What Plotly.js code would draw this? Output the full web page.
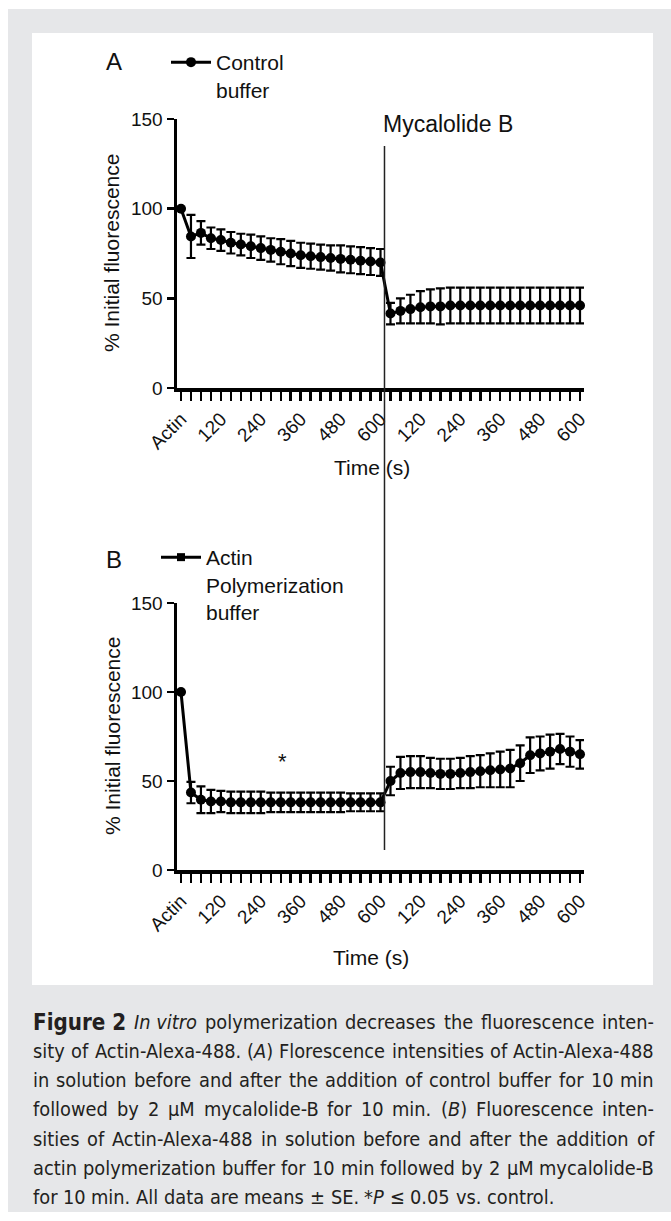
<!DOCTYPE html>
<html><head><meta charset="utf-8">
<script src="https://cdn.plot.ly/plotly-3.0.1.min.js"></script>
<style>html,body{margin:0;padding:0;background:#fff;}#chart{width:671px;height:1221px;}</style>
</head><body><div id="chart"></div>
<script>
// ---------- data ----------
const tickLabels = ["Actin","","","","120","","","","240","","","","360","","","","480","","","","600",
  "","","","120","","","","240","","","","360","","","","480","","","","600"];
const controlMean = [100, 84.5, 86.5, 83.5, 82.5, 81, 80, 79, 78, 77, 76, 75, 74, 73.5, 73, 72.5, 72, 71.5, 71, 70.5, 70,
  41.5, 43, 44, 45, 45.5, 45.5, 46, 46, 46, 46, 46, 46, 46, 46, 46, 46, 46, 46, 46, 46];
const controlSE = [0, 12, 6.5, 6, 6, 6, 6, 6.5, 6.5, 6.5, 7, 7, 7, 7, 7, 7, 7.5, 7.5, 7.5, 7.5, 7.5,
  6, 7, 8, 9, 9.5, 10, 10, 10, 10, 10, 10, 10, 10, 10, 10, 10, 10, 10, 10, 10];
const polyMean = [100, 43.5, 39.5, 38.5, 38.5, 38, 38, 38, 38, 38, 38, 38, 38, 38, 38, 38, 38, 38, 38, 38, 38,
  50, 54.5, 55, 55, 54.5, 54, 54, 54.5, 55, 55.5, 56, 56.5, 57, 60, 64.5, 65.5, 66.5, 68, 66.5, 65];
const polySE = [0, 6, 7.5, 6.5, 6, 6, 6, 6, 6, 5.5, 5.5, 5.5, 5.5, 5.5, 5.5, 5.5, 5.5, 5, 5, 5, 5,
  8, 9, 9, 9, 8.5, 8.5, 8.5, 8.5, 9, 9, 9.5, 10, 10.5, 10, 10, 9.5, 9.5, 8.5, 8.5, 8];
const mycalolideAt = 20.4;   // addition of mycalolide B (between 600 s and next point)
const starPoint = {x: 10.2, y: 61};

const captionLines = [
  "<b>Figure\u00a02</b> <i>In\u00a0vitro</i> polymerization decreases the fluorescence inten-",
  "sity of Actin-Alexa-488. (<i>A</i>) Florescence intensities of Actin-Alexa-488",
  "in solution before and after the addition of control buffer for 10 min",
  "followed by 2 \u03bcM mycalolide-B for 10 min. (<i>B</i>) Fluorescence inten-",
  "sities of Actin-Alexa-488 in solution before and after the addition of",
  "actin polymerization buffer for 10 min followed by 2 \u03bcM mycalolide-B",
  "for 10 min. All data are means \u00b1 SE. *<i>P</i> \u2264 0.05 vs. control."
];

// ---------- helpers ----------
const W = 671, H = 1221;
const px = v => v / W;
const py = v => 1 - v / H;
const xs = tickLabels.map((_, i) => i);
const AF = 'Liberation Sans, Arial, sans-serif';
const CF = '"Liberation Sans Narrow", "Arial Narrow", "DejaVu Sans Condensed", Lato';

const ctx = document.createElement('canvas').getContext('2d');
function segs(word){
  const out = []; const re = /<(b|i)>(.*?)<\/\1>|([^<]+)/g; let m;
  while((m = re.exec(word))){ if(m[3]) out.push({t:m[3], s:''}); else out.push({t:m[2], s:m[1]}); }
  return out;
}
function wordWidth(word, size){
  return segs(word).reduce((acc, sg) => {
    ctx.font = (sg.s==='i'?'italic ':'') + (sg.s==='b'?'bold ':'') + size + 'px ' + CF;
    return acc + ctx.measureText(sg.t).width;
  }, 0);
}
const capLeft = 32, capRight = 653, capTop = 1022, capStep = 29.3;
function naturalWidth(line, size){
  const words = line.split(' ');
  ctx.font = size + 'px ' + CF;
  const sp = ctx.measureText(' ').width;
  return words.reduce((a, w) => a + wordWidth(w, w.startsWith('<b>') ? size*1.12 : size), 0) + sp*(words.length-1);
}
const maxNat = Math.max.apply(null, captionLines.slice(0, -1).map(l => naturalWidth(l, 20)));
const capSize = Math.min(21.5, 20 * (capRight - capLeft - 4) / maxNat);
const headSize = capSize * 1.12;
const capAnn = [];
captionLines.forEach((line, li) => {
  const words = line.split(' ');
  const sizes = words.map(w => w.startsWith('<b>') ? headSize : capSize);
  const widths = words.map((w, k) => wordWidth(w, sizes[k]));
  const total = widths.reduce((a,b)=>a+b,0);
  const last = li === captionLines.length - 1;
  ctx.font = capSize + 'px ' + CF;
  const gap = last ? ctx.measureText(' ').width : (capRight - capLeft - total) / (words.length - 1);
  let xpos = capLeft;
  words.forEach((w, k) => {
    capAnn.push({text: w, xref:'paper', yref:'paper', x: px(xpos), y: py(capTop + li*capStep),
      xanchor:'left', yanchor:'middle', showarrow:false, borderpad:0,
      font:{family:CF, size:sizes[k], color:'#231f20'}});
    xpos += widths[k] + gap;
  });
});

// ---------- traces ----------
const base = {mode:'lines+markers', line:{color:'#000', width:3}, marker:{color:'#000', size:10, symbol:'circle'},
  cliponaxis:false};
const err = arr => ({type:'data', array: arr, visible:true, color:'#000', thickness:2.2, width:4.5});
const traces = [
  Object.assign({}, base, {x: xs, y: controlMean, xaxis:'x', yaxis:'y', name:'Control<br>buffer', legend:'legend',
    error_y: err(controlSE)}),
  Object.assign({}, base, {x: xs, y: polyMean, xaxis:'x2', yaxis:'y2', showlegend:false,
    error_y: err(polySE)}),
  Object.assign({}, base, {x: [null], y: [null], xaxis:'x2', yaxis:'y2', name:'Actin<br>Polymerization<br>buffer',
    legend:'legend2', marker:{color:'#000', size:8, symbol:'square'}})
];

const xDomain = [px(177), px(584)];
function xAxis(anchor){
  return {domain:xDomain, anchor:anchor, range:[-0.4, 40.4], tickmode:'array', tickvals:xs, ticktext:tickLabels,
    tickangle:-45, ticks:'outside', ticklen:9, tickwidth:2.5, tickcolor:'#000', showline:true, linewidth:3.5,
    linecolor:'#000', showgrid:false, zeroline:false, fixedrange:true,
    tickfont:{family:AF, size:19, color:'#111'}};
}
function yAxis(anchor, top, bottom){
  return {domain:[py(bottom), py(top)], anchor:anchor, range:[0,150], tickvals:[0,50,100,150],
    ticks:'outside', ticklen:7, tickwidth:2.5, tickcolor:'#000', showline:true, linewidth:3.5, linecolor:'#000',
    showgrid:false, zeroline:false, fixedrange:true, tickfont:{family:AF, size:19, color:'#111'}};
}
function textAnn(text, x, y, size, extra){
  return Object.assign({text:text, xref:'paper', yref:'paper', x:px(x), y:py(y), showarrow:false,
    xanchor:'left', yanchor:'middle', font:{family:AF, size:size, color:'#111'}}, extra||{});
}

const layout = {
  width:W, height:H, margin:{l:0,r:0,t:0,b:0}, paper_bgcolor:'#fff', plot_bgcolor:'rgba(0,0,0,0)',
  xaxis: xAxis('y'), yaxis: yAxis('x', 119, 388),
  xaxis2: xAxis('y2'), yaxis2: yAxis('x2', 603, 870),
  legend:{x:px(166), y:py(42), xanchor:'left', yanchor:'top', bgcolor:'rgba(0,0,0,0)', itemwidth:40,
    valign:'top', font:{family:AF, size:21, color:'#111'}},
  legend2:{x:px(156), y:py(537), xanchor:'left', yanchor:'top', bgcolor:'rgba(0,0,0,0)', itemwidth:40,
    valign:'top', font:{family:AF, size:21, color:'#111'}},
  shapes:[
    {type:'rect', xref:'paper', yref:'paper', x0:px(8), x1:1, y0:py(1212), y1:py(9), fillcolor:'#e6e7e9',
      line:{width:0}, layer:'below'},
    {type:'rect', xref:'paper', yref:'paper', x0:px(32), x1:px(653), y0:py(985), y1:py(33), fillcolor:'#fff',
      line:{width:0}, layer:'below'},
    {type:'line', xref:'x', yref:'paper', x0:mycalolideAt, x1:mycalolideAt, y0:py(850), y1:py(146),
      line:{color:'#222', width:1.5}}
  ],
  annotations:[
    textAnn('A', 104, 62, 24),
    textAnn('B', 104, 559, 24),
    textAnn('Mycalolide B', 381, 124, 23),
    textAnn('% Initial fluorescence', 111, 253, 21, {xanchor:'center', textangle:-90}),
    textAnn('% Initial fluorescence', 112, 736, 21, {xanchor:'center', textangle:-90}),
    textAnn('Time (s)', 372, 467, 21, {xanchor:'center'}),
    textAnn('Time (s)', 371, 957, 21, {xanchor:'center'}),
    {text:'*', xref:'x2', yref:'y2', x:starPoint.x, y:starPoint.y, showarrow:false,
      font:{family:AF, size:22, color:'#111'}}
  ].concat(capAnn)
};

Plotly.newPlot('chart', traces, layout, {displayModeBar:false, staticPlot:true});
</script></body></html>
